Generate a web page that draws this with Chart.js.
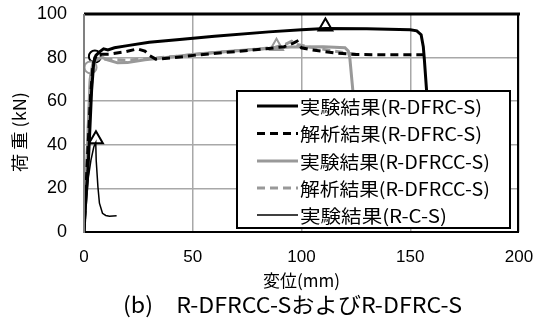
<!DOCTYPE html>
<html>
<head>
<meta charset="utf-8">
<script src="https://cdn.jsdelivr.net/npm/chart.js@4.4.1/dist/chart.umd.min.js"></script>
<style>
  html, body { margin: 0; padding: 0; background: #fff; }
  #c { display: block; }
</style>
</head>
<body>
<canvas id="c" width="542" height="320"></canvas>
<script>
///////Data
const xTicks = [0, 50, 100, 150, 200];
const yTicks = [0, 20, 40, 60, 80, 100];

const labels = [
  '実験結果(R-DFRC-S)',
  '解析結果(R-DFRC-S)',
  '実験結果(R-DFRCC-S)',
  '解析結果(R-DFRCC-S)',
  '実験結果(R-C-S)',
];
// measured widths of the legend texts in the picture
const labelWidths = [182, 182, 190, 190, 147];

// [disp (mm), load (kN)]
const dfrcExp = [[0, 0], [1, 18], [1.8, 28], [2.6, 45], [3.5, 65], [4.5, 78], [5.5, 81], [7, 82.5], [9, 84], [11, 83.5],
  [14, 84.5], [20, 85.5], [30, 87], [44, 88.3], [60, 89.8], [85, 91.8], [100, 92.8], [111, 93.3], [130, 93.2],
  [150, 92.8], [153, 92.3], [155, 90.5], [156, 85], [156.5, 79], [157.5, 65], [158.5, 45], [159, 30]];
const dfrcAna = [[0, 0], [1, 22], [2, 42], [3, 62], [4, 75], [5, 80], [6.5, 81.5], [9, 81.5], [12, 81.6], [18.5, 82.6],
  [24.5, 84], [28, 83], [30, 81], [33, 79.3], [40, 79.8], [52, 81.2], [70, 82.8], [85, 84.2], [92, 85], [96, 86.5],
  [98, 87.5], [100, 84.5], [105, 83.5], [115, 82.2], [125, 81.4], [140, 81.3], [158, 81.3]];
const dfrccExp = [[0, 0], [1, 25], [2, 50], [2.8, 70], [4, 77], [5, 79], [6.2, 79.5], [8.6, 80], [10.8, 79], [15.4, 77.6],
  [20, 77.7], [28, 79], [40, 80.3], [52, 81.6], [70, 83.2], [85, 84.2], [95, 84.9], [110, 85], [120, 84.5],
  [121.5, 83], [122.2, 80], [123.6, 65], [124.5, 45], [125, 30]];
const dfrccAna = [[0, 0], [1, 24], [2, 48], [3, 70], [4, 76.5], [5, 78.5], [7, 79.5], [10, 79.2], [20, 78.8], [40, 80.4],
  [60, 82.3], [80, 83.9], [88, 84.8], [92, 85.8], [95.5, 87.5], [98, 86], [104, 84.8], [115, 83], [125, 81.5]];
const rcsExp = [[0, 0], [1, 12], [2, 25], [3.2, 33], [4.5, 39], [5.4, 41], [5.6, 33], [6.4, 20.7], [7.1, 13.2],
  [8.5, 8.6], [10, 7.6], [11.7, 7.2], [15, 7.4]];

// yield / peak points
const circlesBlack = [[5, 80.5]];
const circlesGray = [[3, 75.5]];
const trianglesBlack = [[111, 94.3]];
const trianglesGray = [[88.5, 85.2]];
const trianglesThin = [[5.5, 42.5]];

const GRAY = '#999999';
const CJK = '"Noto Sans CJK JP"';
const toXY = (arr) => arr.map((p) => ({ x: p[0], y: p[1] }));

const seriesStyle = [
  { data: dfrcExp, color: '#000', width: 3, dash: [] },
  { data: dfrcAna, color: '#000', width: 3, dash: [8, 5] },
  { data: dfrccExp, color: GRAY, width: 3, dash: [] },
  { data: dfrccAna, color: GRAY, width: 3, dash: [8, 5] },
  { data: rcsExp, color: '#000', width: 1.5, dash: [] },
];

const lineSets = seriesStyle.map((s, i) => ({
  label: labels[i],
  data: toXY(s.data),
  borderColor: s.color,
  borderWidth: s.width,
  borderDash: s.dash,
  pointRadius: 0,
  showLine: true,
  tension: 0,
  fill: false,
}));

const markerSet = (arr, style, color, r, bw) => ({
  label: '',
  data: toXY(arr),
  showLine: false,
  pointStyle: style,
  pointRadius: r,
  pointBackgroundColor: '#fff',
  pointBorderColor: color,
  pointBorderWidth: bw,
});

const markerSets = [
  markerSet(circlesGray, 'circle', GRAY, 6, 2),
  markerSet(circlesBlack, 'circle', '#000', 6, 2),
  markerSet(trianglesGray, 'triangle', GRAY, 7.5, 2),
  markerSet(trianglesBlack, 'triangle', '#000', 8, 2),
  markerSet(trianglesThin, 'triangle', '#000', 8, 2),
];

// draw text squeezed to a given width (left aligned at x)
function fitText(ctx, text, x, y, width) {
  const w = ctx.measureText(text).width;
  ctx.save();
  ctx.translate(x, y);
  ctx.scale(width / w, 1);
  ctx.fillText(text, 0, 0);
  ctx.restore();
}

///////Plugins
const frame = {
  id: 'frame',
  afterDatasetsDraw(chart) {
    const { ctx, chartArea: a } = chart;
    ctx.save();
    ctx.lineCap = 'butt';
    ctx.strokeStyle = '#000';
    ctx.lineWidth = 3;
    ctx.beginPath(); ctx.moveTo(a.left, a.top); ctx.lineTo(a.right + 1, a.top); ctx.stroke();
    ctx.lineWidth = 2;
    ctx.beginPath(); ctx.moveTo(a.right - 1, a.top); ctx.lineTo(a.right - 1, a.bottom); ctx.stroke();
    ctx.beginPath(); ctx.moveTo(a.left, a.bottom); ctx.lineTo(a.right, a.bottom); ctx.stroke();
    ctx.strokeStyle = '#808080';
    ctx.beginPath(); ctx.moveTo(a.left, a.top); ctx.lineTo(a.left, a.bottom + 1); ctx.stroke();
    ctx.restore();
  },
};

const legendBox = {
  id: 'legendBox',
  afterDraw(chart) {
    const ctx = chart.ctx;
    ctx.save();
    ctx.fillStyle = '#fff';
    ctx.fillRect(237, 91, 273, 137);
    ctx.strokeStyle = '#000';
    ctx.lineWidth = 2;
    ctx.strokeRect(237, 91, 273, 137);
    ctx.font = '18px ' + CJK;
    ctx.textBaseline = 'middle';
    ctx.textAlign = 'left';
    const rows = [106, 133.5, 161, 188, 215];
    seriesStyle.forEach((s, i) => {
      ctx.strokeStyle = s.color;
      ctx.lineWidth = s.width;
      ctx.setLineDash(s.dash);
      ctx.beginPath();
      ctx.moveTo(257, rows[i]);
      ctx.lineTo(298, rows[i]);
      ctx.stroke();
      ctx.setLineDash([]);
      ctx.fillStyle = '#000';
      fitText(ctx, labels[i], 300, rows[i] + 1, labelWidths[i]);
    });
    ctx.restore();
  },
};

const titles = {
  id: 'titles',
  afterDraw(chart) {
    const ctx = chart.ctx;
    ctx.save();
    ctx.fillStyle = '#000';
    ctx.textAlign = 'left';
    ctx.textBaseline = 'middle';
    ctx.font = '17px ' + CJK;
    fitText(ctx, '変位(mm)', 263, 281, 77);
    ctx.font = '22px ' + CJK;
    fitText(ctx, '(b)　R-DFRCC-SおよびR-DFRC-S', 123, 305, 339);
    ctx.translate(20, 172);
    ctx.rotate(-Math.PI / 2);
    ctx.font = '17px ' + CJK;
    fitText(ctx, '荷 重 (kN)', 0, 0, 80);
    ctx.restore();
  },
};

///////Chart
const ctx = document.getElementById('c').getContext('2d');
const chart = new Chart(ctx, {
  type: 'scatter',
  data: { datasets: [...lineSets, ...markerSets] },
  options: {
    responsive: false,
    animation: false,
    layout: { padding: { left: 0, right: 23, top: 14, bottom: 0 } },
    plugins: { legend: { display: false }, tooltip: { enabled: false } },
    scales: {
      x: {
        type: 'linear',
        min: 0,
        max: 200,
        afterBuildTicks: (s) => { s.ticks = xTicks.map((v) => ({ value: v })); },
        afterFit: (s) => { s.height = 88; s.paddingLeft = 0; s.paddingRight = 0; },
        grid: { color: '#a8a8a8', lineWidth: 1.5, drawTicks: false },
        border: { display: false },
        ticks: { color: '#000', padding: 15, maxRotation: 0, font: { family: '"Liberation Sans"', size: 17 } },
      },
      y: {
        min: 0,
        max: 100,
        afterBuildTicks: (s) => { s.ticks = yTicks.map((v) => ({ value: v })); },
        afterFit: (s) => { s.width = 84; s.paddingTop = 0; s.paddingBottom = 0; },
        grid: { color: '#a8a8a8', lineWidth: 1.5, drawTicks: false },
        border: { display: false },
        ticks: { color: '#000', padding: 17, font: { family: '"Liberation Sans"', size: 18 } },
      },
    },
  },
  plugins: [frame, legendBox, titles],
});
</script>
</body>
</html>
